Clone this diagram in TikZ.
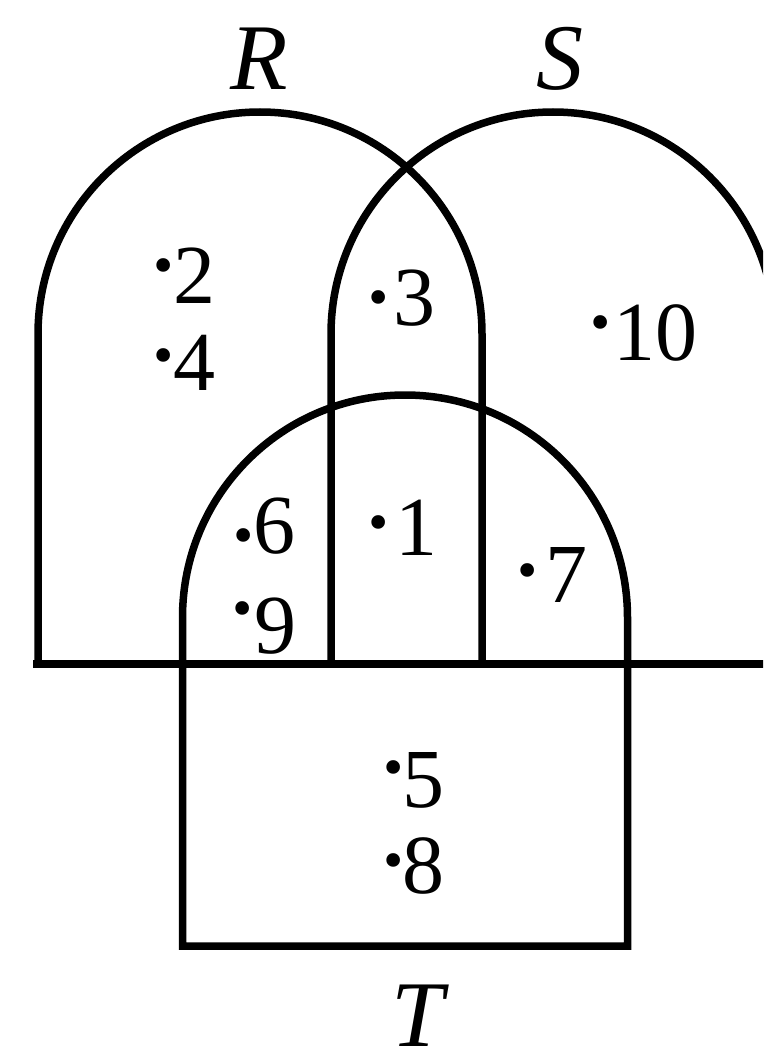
\documentclass[tikz,border=0pt]{standalone}
\usepackage{fontspec}
\setmainfont{Liberation Serif}
\newcommand\lbl[3]{\makebox[20pt]{\raisebox{\dimexpr#1pt-38pt\relax}{\fontsize{115}{115}\selectfont ·}}\kern#2pt #3}
\begin{document}
\begin{tikzpicture}[x=1pt,y=1pt,
  setline/.style={line width=7.5pt, line join=miter},
  num/.style={inner sep=0pt, anchor=base west, text depth=0pt, font=\fontsize{84}{84}\selectfont},
  setlabel/.style={inner sep=0pt, anchor=base, text depth=0pt, font=\fontsize{94}{94}\selectfont\itshape}]
\useasboundingbox (0,0) rectangle (763,-1051);
\begin{scope}
\clip (0,0) rectangle (763,-1051);
% R
\draw[setline] (38,-664) -- (38,-334) arc[start angle=180,end angle=0,radius=222] -- (482,-664);
% S
\draw[setline] (331,-664) -- (331,-334) arc[start angle=180,end angle=0,radius=222] -- (775,-664);
% T
\draw[setline] (182.5,-946) -- (182.5,-617.5) arc[start angle=180,end angle=0,radius=222.5] -- (627.5,-946) -- cycle;
% base line
\draw[setline] (33,-664) -- (775,-664);
\end{scope}
% set labels
\node[setlabel] (R) at (259,-90) {R};
\node[setlabel] (S) at (560,-90) {S};
\node[setlabel] (T) at (418,-1046) {T};
% elements
\node[num] (e2)  at (153,-303) {\lbl{38}{0}{2}};
\node[num] (e4)  at (153,-390) {\lbl{35}{0}{4}};
\node[num] (e3)  at (368,-325) {\lbl{28}{5}{3}};
\node[num] (e10) at (590,-360) {\lbl{38}{3}{10}};
\node[num] (e6)  at (233,-553) {\lbl{18}{0}{6}};
\node[num] (e9)  at (232,-653) {\lbl{45}{2}{9}};
\node[num] (e1)  at (368,-555) {\lbl{33}{7}{1}};
\node[num] (e7)  at (517,-602) {\lbl{32}{8}{7}};
\node[num] (e5)  at (383,-807) {\lbl{40}{-1}{5}};
\node[num] (e8)  at (383,-893) {\lbl{33}{-1}{8}};
\end{tikzpicture}
\end{document}
